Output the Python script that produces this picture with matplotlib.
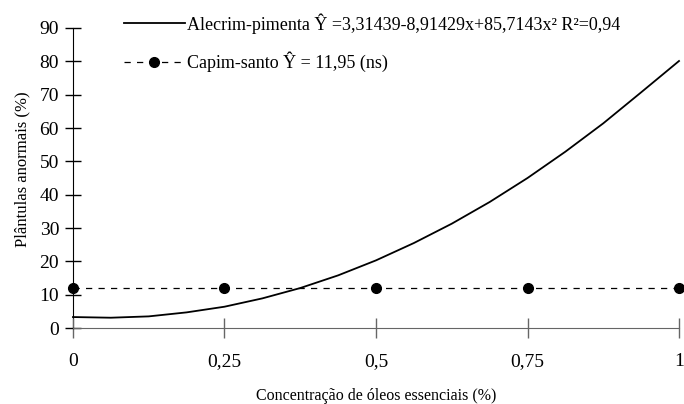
import matplotlib.pyplot as plt

plt.rcParams['font.family'] = ['Liberation Serif', 'DejaVu Serif']

# Alecrim-pimenta: curva ajustada
x_alecrim = [0, 0.0625, 0.125, 0.1875, 0.25, 0.3125, 0.375, 0.4375, 0.5,
             0.5625, 0.625, 0.6875, 0.75, 0.8125, 0.875, 0.9375, 1]
y_alecrim = [3.3, 3.1, 3.5, 4.7, 6.4, 8.9, 12.0, 15.8, 20.3,
             25.5, 31.3, 37.8, 45.0, 52.9, 61.4, 70.7, 80.1]

# Capim-santo: media constante
x_capim = [0, 0.25, 0.5, 0.75, 1]
y_capim = [11.95, 11.95, 11.95, 11.95, 11.95]

x_ticks = [0, 0.25, 0.5, 0.75, 1]
x_labels = ['0', '0,25', '0,5', '0,75', '1']
y_ticks = list(range(0, 91, 10))

fig = plt.figure(figsize=(6.84, 4.04), dpi=100)
ax = fig.add_axes([0.1067, 0.188, 0.886, 0.7427])

ax.plot(x_alecrim, y_alecrim, color='black', lw=1.3,
        label='Alecrim-pimenta Ŷ =3,31439-8,91429x+85,7143x² R²=0,94')
ax.plot(x_capim, y_capim, color='black', lw=0.9, dashes=(5, 5),
        marker='o', markersize=7,
        label='Capim-santo Ŷ = 11,95 (ns)')

ax.set_xlim(0, 1)
ax.set_ylim(0, 90)
ax.set_xticks(x_ticks)
ax.set_xticklabels(x_labels)
ax.set_yticks(y_ticks)

for s in ['top', 'right']:
    ax.spines[s].set_visible(False)
ax.spines['bottom'].set_color('#666666')
ax.spines['left'].set_color('black')
ax.spines['left'].set_zorder(0)
ax.tick_params(axis='x', direction='inout', length=14, width=1, colors='#666666',
               labelcolor='black', labelsize=14, pad=11)
ax.tick_params(axis='y', direction='inout', length=12, width=1,
               labelsize=14, pad=4)

ax.set_xlabel('Concentração de óleos essenciais (%)', fontsize=11.5, labelpad=13)
ax.set_ylabel('Plântulas anormais (%)', fontsize=12)
ax.yaxis.set_label_coords(-0.070, 0.53)

ax.legend(loc='upper left', bbox_to_anchor=(0.157, 1.008), bbox_transform=fig.transFigure,
          frameon=False, fontsize=13, handlelength=3.4, handletextpad=0.1,
          labelspacing=1.0, numpoints=1)

for ln in ax.lines:
    ln.set_clip_on(False)

plt.savefig('out.png', dpi=100)
